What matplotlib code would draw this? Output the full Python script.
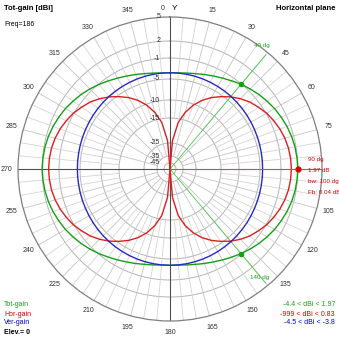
import numpy as np
import matplotlib
matplotlib.use("Agg")
import matplotlib.pyplot as plt

plt.rcParams['font.family'] = ['Liberation Sans', 'DejaVu Sans']

# azimuth in degrees, 0 = Y axis (top), clockwise
azimuth = list(range(0, 360, 5))

hor_gain = [-999, -24, -16.5, -12.9, -10.3, -8.4, -6.8, -5.4, -4.2, -3.2, -2.3, -1.6,
            -0.9, -0.4, 0.05, 0.4, 0.64, 0.78, 0.83, 0.78, 0.64, 0.4, 0.05, -0.4,
            -0.9, -1.6, -2.3, -3.2, -4.2, -5.4, -6.8, -8.4, -10.3, -12.9, -16.5, -24,
            -999, -24, -16.5, -12.9, -10.3, -8.4, -6.8, -5.4, -4.2, -3.2, -2.3, -1.6,
            -0.9, -0.4, 0.05, 0.4, 0.64, 0.78, 0.83, 0.78, 0.64, 0.4, 0.05, -0.4,
            -0.9, -1.6, -2.3, -3.2, -4.2, -5.4, -6.8, -8.4, -10.3, -12.9, -16.5, -24]

ver_gain = [-3.80, -3.81, -3.82, -3.85, -3.88, -3.93, -3.98, -4.03, -4.09, -4.15, -4.21, -4.27,
            -4.33, -4.38, -4.42, -4.45, -4.48, -4.49, -4.50, -4.49, -4.48, -4.45, -4.42, -4.38,
            -4.33, -4.27, -4.21, -4.15, -4.09, -4.03, -3.98, -3.93, -3.88, -3.85, -3.82, -3.81,
            -3.80, -3.81, -3.82, -3.85, -3.88, -3.93, -3.98, -4.03, -4.09, -4.15, -4.21, -4.27,
            -4.33, -4.38, -4.42, -4.45, -4.48, -4.49, -4.50, -4.49, -4.48, -4.45, -4.42, -4.38,
            -4.33, -4.27, -4.21, -4.15, -4.09, -4.03, -3.98, -3.93, -3.88, -3.85, -3.82, -3.81]

tot_gain = [-3.80, -3.77, -3.59, -3.34, -2.99, -2.60, -2.15, -1.65, -1.05, -0.60, -0.12, 0.30,
            0.73, 1.06, 1.38, 1.63, 1.81, 1.91, 1.97, 1.91, 1.81, 1.63, 1.38, 1.06,
            0.73, 0.30, -0.12, -0.60, -1.10, -1.65, -2.15, -2.60, -2.99, -3.34, -3.59, -3.77,
            -3.80, -3.77, -3.59, -3.34, -2.99, -2.60, -2.15, -1.65, -1.10, -0.60, -0.12, 0.30,
            0.73, 1.06, 1.38, 1.63, 1.81, 1.91, 1.97, 1.91, 1.81, 1.63, 1.38, 1.06,
            0.73, 0.30, -0.12, -0.60, -1.10, -1.65, -2.15, -2.60, -2.99, -3.34, -3.59, -3.77]

ring_levels = [5, 2, -1, -5, -10, -15, -25, -35, -45]
angle_labels = [15, 30, 45, 60, 75, 105, 120, 135, 150, 165, 180, 195, 210,
                225, 240, 255, 270, 285, 300, 315, 330, 345]

marker_main = 90        # red marker, max gain direction
marker_bw = [40, 140]   # green beamwidth markers
marker_gain = 1.97
marker_bw_gain = [-1.05, -1.10]

# MMANA style compressed dB radial scale (dB -> relative radius)
scale_db = [-60, -45, -35, -25, -15, -10, -5, -1, 2, 5]
scale_rad = [0, 6, 13, 26, 51, 69, 90, 111, 128, 152]


def fwd(v):
    return np.interp(v, scale_db, scale_rad)


def inv(v):
    return np.interp(v, scale_rad, scale_db)


GREEN = '#14a014'
RED = '#dc1e1e'
BLUE = '#2828c8'

fig = plt.figure(figsize=(3.39, 3.39), dpi=100)
fig.patch.set_facecolor('white')
cx, cy, rad = 170 / 339, 1 - 169 / 339, 152 / 339
ax = fig.add_axes([cx - rad, cy - rad, 2 * rad, 2 * rad], projection='polar')
ax.set_theta_zero_location('N')
ax.set_theta_direction(-1)
ax.set_rscale('function', functions=(fwd, inv))
ax.set_rlim(-60, 5)
ax.grid(False)
ax.set_yticks([])
ax.set_xticks(np.deg2rad(angle_labels))
ax.set_xticklabels([str(a) for a in angle_labels])
ax.tick_params(axis='x', labelsize=5, pad=1.5, colors='#303030', length=0)
ax.spines['polar'].set_color('#808080')
ax.spines['polar'].set_linewidth(0.9)

full = np.linspace(0, 2 * np.pi, 361)
for lv in ring_levels[1:]:
    ax.plot(full, np.full_like(full, lv), color='#b4b4b4', lw=0.7, zorder=1)

for a in range(0, 360, 5):
    t = np.deg2rad(a)
    if a % 15 == 0:
        ax.plot([t, t], [-35, 5], color='#c4c4c4', lw=0.6, zorder=1)
    else:
        ax.plot([t, t], [-15, 5], color='#d4d4d4', lw=0.6, zorder=1)

# main axes through the centre
for a in (0, 90):
    t = np.deg2rad(a)
    ax.plot([t, t], [-60, 5], color='#505050', lw=0.8, zorder=2)
    ax.plot([t + np.pi, t + np.pi], [-60, 5], color='#505050', lw=0.8, zorder=2)

for lv in ring_levels:
    ax.annotate(str(lv), xy=(0, lv), xytext=(-7, 0), textcoords='offset points',
                ha='right', va='center', fontsize=5, color='#303030', zorder=5)

th = np.deg2rad(azimuth + [360])
ax.plot(th, tot_gain + tot_gain[:1], color=GREEN, lw=1.0, zorder=4)
ax.plot(th, hor_gain + hor_gain[:1], color=RED, lw=1.0, zorder=4)
ax.plot(th, ver_gain + ver_gain[:1], color=BLUE, lw=1.0, zorder=4)

# beamwidth markers
for a, g in zip(marker_bw, marker_bw_gain):
    t = np.deg2rad(a)
    ax.plot([t, t], [-60, 4.6], color='#46c846', lw=0.6, zorder=3)
    ax.plot([t], [g], 'o', color=GREEN, ms=3, zorder=6)
ax.plot([np.deg2rad(marker_main)] * 2, [-60, 4.7], color='#ff3c3c', lw=0.7, zorder=5)
ax.plot([np.deg2rad(marker_main)], [marker_gain], 'o', color='#e00000', ms=3.5, zorder=6)

fs = 5
fig.text(163 / 339, 1 - 8 / 339, '0', fontsize=fs, ha='center', va='center', color='#303030')
fig.text(175 / 339, 1 - 9 / 339, 'Y', fontsize=6, ha='center', va='center', color='#000000')
fig.text(262 / 339, 1 - 46 / 339, '40 dg', fontsize=4.5, ha='center', va='center', color=GREEN)
fig.text(260 / 339, 1 - 277 / 339, '140 dg', fontsize=4.5, ha='center', va='center', color=GREEN)

for i, s in enumerate(['90 dg', '%.2f dB' % marker_gain, 'bw: 100 dg', 'Fb: 0.04 dB']):
    fig.text(308 / 339, 1 - (160 + 11 * i) / 339, s, fontsize=4.5, ha='left', va='center', color='#d00000')

fig.text(4 / 339, 1 - 8 / 339, 'Tot-gain [dBi]', fontsize=5.5, fontweight='bold', va='center')
fig.text(4 / 339, 1 - 25 / 339, 'Freq=186', fontsize=5, va='center')
fig.text(335 / 339, 1 - 8 / 339, 'Horizontal plane', fontsize=5.5, fontweight='bold', va='center', ha='right')

fig.text(4 / 339, 1 - 305 / 339, 'Tot-gain', fontsize=5, va='center', color=GREEN)
fig.text(4 / 339, 1 - 314 / 339, 'Hor-gain', fontsize=5, va='center', color='#d00000')
fig.text(4 / 339, 1 - 323 / 339, 'Ver-gain', fontsize=5, va='center', color='#0000c8')
fig.text(4 / 339, 1 - 333 / 339, 'Elev.= 0', fontsize=5, va='center', color='black', fontweight='bold')

fig.text(335 / 339, 1 - 305 / 339, '-4.4 < dBi < 1.97', fontsize=5, va='center', ha='right', color=GREEN)
fig.text(335 / 339, 1 - 314 / 339, '-999 < dBi < 0.83', fontsize=5, va='center', ha='right', color='#d00000')
fig.text(335 / 339, 1 - 323 / 339, '-4.5 < dBi < -3.8', fontsize=5, va='center', ha='right', color='#0000c8')

fig.savefig('out.png', dpi=100, facecolor='white')
